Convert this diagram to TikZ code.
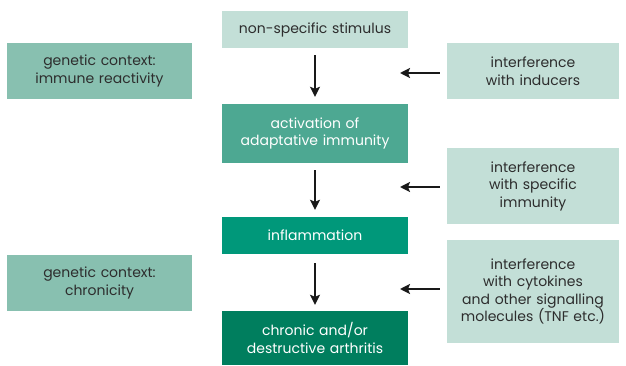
\documentclass[tikz,border=0pt]{standalone}
\usepackage{fontspec}
\setmainfont{Poppins}
\usepackage{tikz}
\usetikzlibrary{arrows.meta}
\definecolor{palegreen}{RGB}{195,223,215}
\definecolor{softgreen}{RGB}{136,192,176}
\definecolor{midgreen}{RGB}{77,168,146}
\definecolor{deepgreen}{RGB}{0,152,122}
\definecolor{darkgreen}{RGB}{0,126,94}
\definecolor{ink}{RGB}{45,45,45}
\tikzstyle{box} = [rectangle, minimum width=186pt, text width=182pt, align=center, inner sep=0pt, font=\fontsize{14}{17.5}\selectfont, text=ink]
\tikzstyle{side} = [box, minimum width=172pt, text width=170pt, fill=palegreen]
\tikzstyle{arrow} = [line width=1.8pt,-{Stealth[length=10pt,width=10pt,inset=2pt]}, color=black!90]

\begin{document}
\begin{tikzpicture}[x=1pt,y=-1pt]
\useasboundingbox (0,0) rectangle (626,366);
\node (stimulus) [box, fill=palegreen, minimum height=37pt] at (315,29.5) {non-specific stimulus};
\node (activation) [box, fill=midgreen, text=white, minimum height=59pt] at (315,133.5) {activation of\\adaptative immunity};
\node (inflammation) [box, fill=deepgreen, text=white, minimum height=37pt] at (315,235.5) {inflammation};
\node (arthritis) [box, fill=darkgreen, text=white, minimum height=54pt] at (315,338) {chronic and/or\\destructive arthritis};

\node (reactivity) [box, fill=softgreen, minimum width=185pt, minimum height=56pt] at (99.5,71) {genetic context:\\immune reactivity};
\node (chronicity) [box, fill=softgreen, minimum width=185pt, minimum height=56pt] at (99.5,283) {genetic context:\\chronicity};

\node (inducers) [side, minimum height=56pt] at (533,71) {interference\\with inducers};
\node (specific) [side, minimum height=76pt] at (533,186) {interference\\with specific\\immunity};
\node (cytokines) [side, minimum height=103pt] at (533,291.5) {interference\\with cytokines\\and other signalling\\molecules (TNF etc.)};

\draw [arrow, shorten <=7pt, shorten >=7pt] (stimulus) -- (activation);
\draw [arrow, shorten <=7pt, shorten >=7pt] (activation) -- (inflammation);
\draw [arrow, shorten <=9pt, shorten >=6pt] (inflammation) -- (arthritis);

\coordinate (inducers-end) at (400,73);
\coordinate (specific-end) at (400,187);
\coordinate (cytokines-end) at (400,289);
\draw [arrow, shorten <=7pt] (inducers.west |- inducers-end) -- (inducers-end);
\draw [arrow, shorten <=7pt] (specific.west |- specific-end) -- (specific-end);
\draw [arrow, shorten <=7pt] (cytokines.west |- cytokines-end) -- (cytokines-end);
\end{tikzpicture}
\end{document}
